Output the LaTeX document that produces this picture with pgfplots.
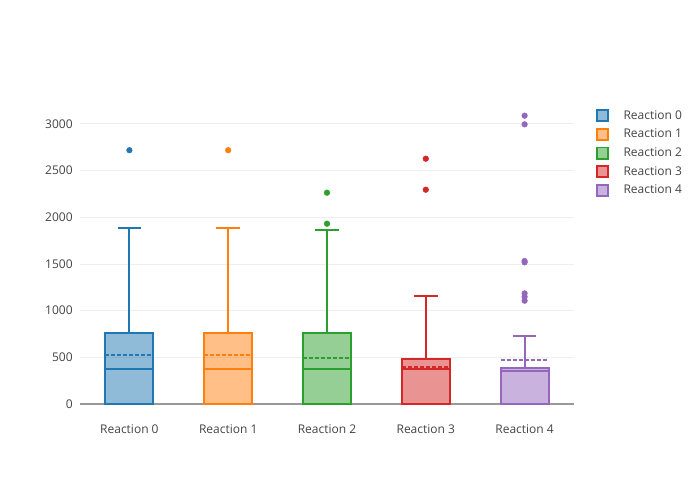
\documentclass[border=0pt]{standalone}
\usepackage{pgfplots}
\usepackage{fontspec}
\setmainfont{Open Sans}
\pgfplotsset{compat=1.18}

\definecolor{c0}{HTML}{1F77B4}
\definecolor{c1}{HTML}{FF7F0E}
\definecolor{c2}{HTML}{2CA02C}
\definecolor{c3}{HTML}{D62728}
\definecolor{c4}{HTML}{9467BD}
\definecolor{txt}{HTML}{444444}
\definecolor{gridc}{HTML}{EEEEEE}

\pgfplotsset{
  boxst/.style={draw=#1, fill=#1, fill opacity=0.5, line width=1.5pt, forget plot},
  linest/.style={draw=#1, line width=1.5pt, forget plot},
  meanst/.style={draw=#1, line width=1.5pt, dash pattern=on 3pt off 1.5pt, forget plot},
  outst/.style={only marks, mark=*, mark size=2.1pt, draw=#1, fill=#1, forget plot},
  legsq/.style={draw=#1, fill=#1!50, line width=1.4pt,
    legend image code/.code={
      \draw[##1] (0pt,-4.2pt) rectangle (8.4pt,4.2pt);
      \path (17.2pt,0pt);
    }},
}

\begin{document}
\begin{tikzpicture}
\path (0,0) rectangle (525pt,375pt);
\begin{axis}[
    at={(60pt,60pt)}, anchor=south west,
    scale only axis,
    width=370.5pt, height=240pt,
    xmin=-0.5, xmax=4.5,
    ymin=-171, ymax=3257,
    xtick={0,1,2,3,4},
    xticklabels={Reaction 0,Reaction 1,Reaction 2,Reaction 3,Reaction 4},
    ytick={0,500,1000,1500,2000,2500,3000},
    ymajorgrids,
    grid style={gridc, line width=0.75pt},
    axis line style={draw=none},
    major tick length=0pt,
    tick label style={font=\fontsize{9}{11}\selectfont, text=txt},
    /pgf/number format/assume math mode=true,
    /pgf/number format/1000 sep={},
    yticklabel style={xshift=-2pt},
    legend cell align=left,
    legend style={
      at={(1.036,0.985)}, anchor=north west, draw=none, fill=none,
      font=\fontsize{9}{11}\selectfont, text=txt,
      row sep=1.9pt,
    },
]

\addlegendimage{legsq=c0}\addlegendentry{Reaction 0}
\addlegendimage{legsq=c1}\addlegendentry{Reaction 1}
\addlegendimage{legsq=c2}\addlegendentry{Reaction 2}
\addlegendimage{legsq=c3}\addlegendentry{Reaction 3}
\addlegendimage{legsq=c4}\addlegendentry{Reaction 4}

% zero line
\addplot[draw=black!40, line width=1.5pt, forget plot] coordinates {(-0.5,0) (4.5,0)};

% Reaction 0: median 375, q3 763, whisker 1887, mean 530
\addplot[boxst=c0] coordinates {(-0.2425,0) (-0.2425,763) (0.2425,763) (0.2425,0)} -- cycle;
\addplot[linest=c0] coordinates {(-0.2425,375) (0.2425,375)};
\addplot[linest=c0] coordinates {(0,763) (0,1887)};
\addplot[linest=c0] coordinates {(-0.12,1887) (0.12,1887)};
\addplot[meanst=c0] coordinates {(-0.2425,530) (0.2425,530)};
\addplot[outst=c0] coordinates {(0,2719)};

% Reaction 1
\addplot[boxst=c1] coordinates {(0.7575,0) (0.7575,763) (1.2425,763) (1.2425,0)} -- cycle;
\addplot[linest=c1] coordinates {(0.7575,375) (1.2425,375)};
\addplot[linest=c1] coordinates {(1,763) (1,1887)};
\addplot[linest=c1] coordinates {(0.88,1887) (1.12,1887)};
\addplot[meanst=c1] coordinates {(0.7575,530) (1.2425,530)};
\addplot[outst=c1] coordinates {(1,2719)};

% Reaction 2
\addplot[boxst=c2] coordinates {(1.7575,0) (1.7575,757) (2.2425,757) (2.2425,0)} -- cycle;
\addplot[linest=c2] coordinates {(1.7575,372) (2.2425,372)};
\addplot[linest=c2] coordinates {(2,757) (2,1862)};
\addplot[linest=c2] coordinates {(1.88,1862) (2.12,1862)};
\addplot[meanst=c2] coordinates {(1.7575,496) (2.2425,496)};
\addplot[outst=c2] coordinates {(2,1932) (2,2264)};

% Reaction 3
\addplot[boxst=c3] coordinates {(2.7575,0) (2.7575,486) (3.2425,486) (3.2425,0)} -- cycle;
\addplot[linest=c3] coordinates {(2.7575,372) (3.2425,372)};
\addplot[linest=c3] coordinates {(3,486) (3,1153)};
\addplot[linest=c3] coordinates {(2.88,1153) (3.12,1153)};
\addplot[meanst=c3] coordinates {(2.7575,400) (3.2425,400)};
\addplot[outst=c3] coordinates {(3,2296) (3,2628)};

% Reaction 4
\addplot[boxst=c4] coordinates {(3.7575,0) (3.7575,384) (4.2425,384) (4.2425,0)} -- cycle;
\addplot[linest=c4] coordinates {(3.7575,358) (4.2425,358)};
\addplot[linest=c4] coordinates {(4,384) (4,729)};
\addplot[linest=c4] coordinates {(3.88,729) (4.12,729)};
\addplot[meanst=c4] coordinates {(3.7575,475) (4.2425,475)};
\addplot[outst=c4] coordinates {(4,1107) (4,1150) (4,1185) (4,1518) (4,1532) (4,2996) (4,3089)};

\end{axis}
\end{tikzpicture}
\end{document}
